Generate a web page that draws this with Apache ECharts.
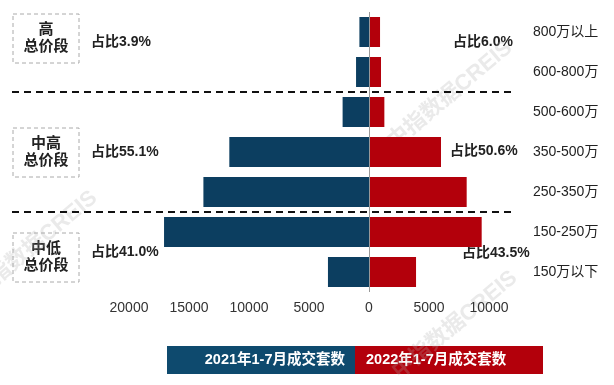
<!DOCTYPE html>
<html><head><meta charset="utf-8">
<script src="https://cdn.jsdelivr.net/npm/echarts@6/dist/echarts.min.js"></script>
<style>html,body{margin:0;padding:0;background:#fff}#c{width:614px;height:385px}</style>
</head><body><div id="c"></div>
<script>
var categories = ['800万以上','600-800万','500-600万','350-500万','250-350万','150-250万','150万以下'];
var values2021 = [800, 1080, 2200, 11640, 13800, 17080, 3420];
var values2022 = [920, 1000, 1280, 6000, 8140, 9390, 3920];
var xTicks = [-20000, -15000, -10000, -5000, 0, 5000, 10000];
var seriesNames = ['2021年1-7月成交套数','2022年1-7月成交套数'];
var segLabels = ['高\n总价段','中高\n总价段','中低\n总价段'];
var share2021 = ['占比3.9%','占比55.1%','占比41.0%'];
var share2022 = ['占比6.0%','占比50.6%','占比43.5%'];

var FONT = '"Liberation Sans", "Noto Sans CJK SC", sans-serif';
var BLUE = '#0C3E60', RED = '#B3000B';
var chart = echarts.init(document.getElementById('c'));

function dashLine(y){
  return {type:'line', shape:{x1:12,y1:y,x2:515,y2:y}, style:{stroke:'#111',lineWidth:2,lineDash:[7,5]}, z:10};
}
function box(y){
  return {type:'rect', shape:{x:13,y:y,width:66,height:49}, style:{fill:'none',stroke:'#aaa',lineWidth:1,lineDash:[4,3]}};
}
function txt(x,y,t){
  return {type:'text', x:x, y:y, style:{text:t, fill:'#222', font:'bold 14px '+FONT, textAlign:'left', textVerticalAlign:'middle'}};
}
function seg(y,t){
  return {type:'text', x:46, y:y, style:{text:t, fill:'#222', font:'bold 15px '+FONT, textAlign:'center', textVerticalAlign:'middle', lineHeight:17}};
}
function wm(x,y){
  return {type:'text', x:x, y:y, rotation:Math.PI*40/180, style:{text:'中指数据CREIS', fill:'rgba(170,170,170,0.25)', font:'bold 22px '+FONT, textAlign:'center', textVerticalAlign:'middle'}, z:0};
}

var graphics = [
  dashLine(92), dashLine(212),
  box(14), box(128), box(233),
  seg(38.5, segLabels[0]), seg(152.5, segLabels[1]), seg(257.5, segLabels[2]),
  txt(91,42,share2021[0]), txt(91,152,share2021[1]), txt(91,252,share2021[2]),
  txt(453,42,share2022[0]), txt(450,151,share2022[1]), txt(462,253,share2022[2]),
  {type:'rect', shape:{x:167,y:346,width:188,height:28}, style:{fill:'#0E4A6E'}},
  {type:'rect', shape:{x:355,y:346,width:188,height:28}, style:{fill:RED}},
  {type:'text', x:345, y:360, style:{text:seriesNames[0], fill:'#fff', font:'bold 14.5px '+FONT, textAlign:'right', textVerticalAlign:'middle'}},
  {type:'text', x:366, y:360, style:{text:seriesNames[1], fill:'#fff', font:'bold 14.5px '+FONT, textAlign:'left', textVerticalAlign:'middle'}},
  wm(450,95), wm(35,245), wm(455,325)
];

chart.setOption({
  animation:false,
  grid:{left:129, right:125, top:12, bottom:93, containLabel:false},
  xAxis:{type:'value', min:xTicks[0], max:xTicks[xTicks.length-1], interval:5000,
    axisLine:{show:false}, axisTick:{show:false}, splitLine:{show:false},
    axisLabel:{margin:9, color:'#333', fontSize:14, fontFamily:FONT, formatter:function(v){return Math.abs(v);}}},
  yAxis:{type:'category', data:categories, inverse:true, position:'right',
    axisLine:{show:false}, axisTick:{show:false},
    axisLabel:{margin:44, align:'left', color:'#222', fontSize:14, fontFamily:FONT}},
  series:[
    {name:seriesNames[0], type:'bar', stack:'t', barWidth:30, data:values2021.map(function(v){return -v;}), itemStyle:{color:BLUE},
     markLine:{silent:true, symbol:'none', label:{show:false}, lineStyle:{color:'#999', type:'solid', width:1}, data:[{xAxis:0}]}},
    {name:seriesNames[1], type:'bar', stack:'t', barWidth:30, data:values2022, itemStyle:{color:RED}}
  ],
  graphic:graphics
});
</script></body></html>
